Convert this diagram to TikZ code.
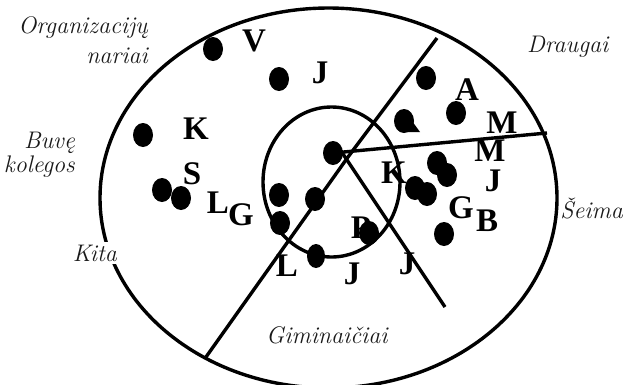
\documentclass[tikz,border=0pt]{standalone}
\usepackage{fontspec}
\newfontfamily\letf{Liberation Serif}
\usetikzlibrary{shapes.geometric}
\begin{document}
\begin{tikzpicture}[x=1pt,y=-1pt,
  dot/.style={ellipse,fill=black,draw=none,minimum width=20pt,minimum height=24pt,inner sep=0pt},
  lett/.style={font=\letf\bfseries\fontsize{33}{33}\selectfont,inner sep=0pt},
  lab/.style={font=\itshape\fontsize{24}{27}\selectfont,inner sep=0pt,text=black!90},
  ln/.style={line width=3.4pt}]
\useasboundingbox (0,0) rectangle (626,384);
\fill[white] (0,0) rectangle (626,384);
\clip (0,0) rectangle (626,384);
% regions
\draw[ln] (328.5,198) ellipse [x radius=228.5pt, y radius=190pt];
\draw[ln] (331.5,182) ellipse [x radius=68.5pt, y radius=75pt];
% connector end points
\coordinate (pTop) at (437,38);
\coordinate (pMid) at (348,157);
\coordinate (pBot) at (206,357);
\coordinate (pRight) at (547,133);
\coordinate (pDiagS) at (341,151);
\coordinate (pDiagE) at (445,307);
% letters
\node[lett] (lV) at (254,41) {V};
\node[lett] (lJ1) at (320,73) {J};
\node[lett] (lK1) at (196,129) {K};
\node[lett] (lS) at (192,174) {S};
\node[lett] (lL1) at (218,203) {L};
\node[lett] (lG1) at (241,215) {G};
\node[lett] (lL2) at (287,266) {L};
\node[lett] (lJ2) at (352,274) {J};
\node[lett] (lP) at (361,228) {P};
\node[lett] (lJ3) at (407,264) {J};
\node[lett] (lK2) at (394,173) {K};
\node[lett] (lG2) at (461,208) {G};
\node[lett] (lBb) at (487,221) {B};
\node[lett] (lJ4) at (493,181) {J};
\node[lett] (lM1) at (490,151) {M};
\node[lett] (lM2) at (502,123) {M};
\node[lett] (lA) at (467,90) {A};
% dots
\node[dot] (d1) at (213,49) {};
\node[dot] (d2) at (279,79) {};
\node[dot] (d3) at (143,135) {};
\node[dot] (d4) at (162,190) {};
\node[dot] (d5) at (181,198) {};
\node[dot] (d6) at (279,195) {};
\node[dot] (d7) at (280,223) {};
\node[dot] (d8) at (315,199) {};
\node[dot] (d9) at (333,153) {};
\node[dot,minimum width=18pt] (d10) at (316,256) {};
\node[dot] (d11) at (369,233) {};
\node[dot] (d12) at (426,78) {};
\node[dot] (d13) at (404,121) {};
\fill (404,110) -- (420,132) -- (402,132) -- cycle;
\node[dot] (d14) at (456,113) {};
\node[dot] (d15) at (437,163) {};
\node[dot] (d16) at (447,175) {};
\node[dot] (d17) at (415,188) {};
\node[dot] (d18) at (427,194) {};
\node[dot] (d19) at (444,234) {};
% dividing lines
\draw[ln] (pTop) -- (pMid) -- (pBot);
\draw[ln] (d9.center) -- (pRight);
\draw[ln] (pDiagS) -- (pDiagE);
% labels
\node[lab,anchor=base east] (o1) at (148,33) {Organizacijų};
\node[lab,anchor=base east] (o2) at (148,63) {nariai};
\node[lab,anchor=base east] (b1) at (75,148) {Buvę};
\node[lab,anchor=base east] (b2) at (75,172) {kolegos};
\node[lab,anchor=base east,fill=white,inner ysep=3pt,inner xsep=1pt] (ki) at (118,261) {Kita};
\node[lab,anchor=base west] (dr) at (527,52) {Draugai};
\node[lab,anchor=base east] (se) at (623,218) {Šeima};
\node[lab,anchor=base west] (gi) at (266,343) {Giminaičiai};
\end{tikzpicture}
\end{document}
